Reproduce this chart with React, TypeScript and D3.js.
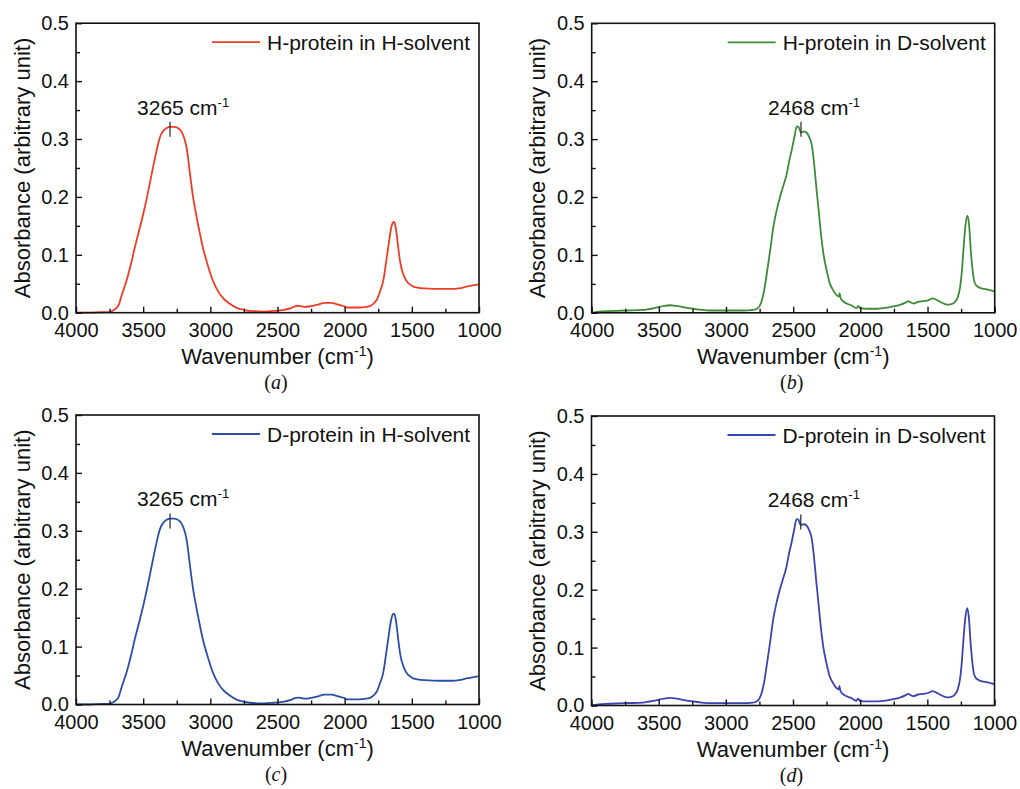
import React, { useEffect, useRef } from "react";
import * as d3 from "d3";

// [wavenumber (cm-1), absorbance]
const hSolventSpectrum: [number, number][] = [
  [4000, 0.0], [3900, 0.0], [3800, 0.001], [3760, 0.001], [3730, 0.003], [3700, 0.008],
  [3685, 0.012], [3660, 0.03], [3623, 0.056], [3590, 0.085], [3561, 0.114], [3530, 0.142],
  [3499, 0.171], [3474, 0.197], [3449, 0.225], [3424, 0.254], [3400, 0.28], [3385, 0.295],
  [3370, 0.306], [3350, 0.314], [3325, 0.319], [3300, 0.321], [3270, 0.321], [3250, 0.32],
  [3230, 0.317], [3211, 0.311], [3195, 0.302], [3181, 0.29], [3170, 0.275], [3160, 0.256],
  [3145, 0.228], [3130, 0.202], [3110, 0.175], [3085, 0.145], [3057, 0.114], [3020, 0.083],
  [2982, 0.056], [2940, 0.036], [2900, 0.024], [2858, 0.016], [2800, 0.008], [2750, 0.005],
  [2704, 0.003], [2600, 0.002], [2531, 0.003], [2450, 0.005], [2400, 0.008], [2370, 0.011],
  [2350, 0.012], [2320, 0.011], [2290, 0.01], [2258, 0.011], [2200, 0.014], [2150, 0.017],
  [2100, 0.017], [2060, 0.015], [2035, 0.013], [2000, 0.011], [1985, 0.009], [1960, 0.009],
  [1900, 0.009], [1836, 0.01], [1800, 0.013], [1775, 0.018], [1762, 0.022], [1740, 0.035],
  [1712, 0.056], [1690, 0.09], [1675, 0.114], [1655, 0.145], [1640, 0.156], [1632, 0.157],
  [1622, 0.15], [1610, 0.13], [1600, 0.11], [1585, 0.085], [1563, 0.066], [1540, 0.055],
  [1510, 0.048], [1489, 0.045], [1450, 0.043], [1400, 0.042], [1290, 0.041], [1200, 0.041],
  [1150, 0.042], [1092, 0.045], [1050, 0.047], [1000, 0.049],
];

const dSolventSpectrum: [number, number][] = [
  [4000, 0.0], [3950, 0.002], [3864, 0.003], [3750, 0.004], [3616, 0.005], [3520, 0.009],
  [3460, 0.012], [3417, 0.013], [3370, 0.012], [3300, 0.009], [3243, 0.007], [3180, 0.005],
  [3119, 0.004], [3000, 0.004], [2871, 0.004], [2800, 0.005], [2771, 0.007], [2750, 0.012],
  [2734, 0.021], [2715, 0.04], [2697, 0.067], [2670, 0.11], [2648, 0.148], [2620, 0.18],
  [2598, 0.2], [2570, 0.222], [2548, 0.24], [2530, 0.262], [2511, 0.281], [2490, 0.305],
  [2474, 0.322], [2460, 0.321], [2444, 0.312], [2420, 0.313], [2399, 0.311], [2380, 0.303],
  [2362, 0.29], [2350, 0.27], [2337, 0.24], [2325, 0.21], [2313, 0.183], [2295, 0.14],
  [2275, 0.102], [2250, 0.072], [2226, 0.05], [2200, 0.038], [2176, 0.03], [2160, 0.028],
  [2155, 0.034], [2148, 0.026], [2130, 0.02], [2102, 0.016], [2060, 0.012], [2030, 0.008],
  [2015, 0.012], [2003, 0.008], [1950, 0.007], [1879, 0.007], [1800, 0.009], [1755, 0.011],
  [1700, 0.014], [1660, 0.018], [1643, 0.02], [1625, 0.018], [1605, 0.016], [1570, 0.019],
  [1531, 0.02], [1490, 0.022], [1462, 0.025], [1440, 0.023], [1407, 0.019], [1370, 0.015],
  [1345, 0.014], [1310, 0.016], [1295, 0.019], [1275, 0.027], [1258, 0.044], [1245, 0.07],
  [1233, 0.108], [1218, 0.15], [1203, 0.168], [1190, 0.15], [1178, 0.108], [1165, 0.075],
  [1154, 0.056], [1140, 0.048], [1109, 0.043], [1050, 0.04], [1000, 0.037],
];

const legendLabels = ["H-protein in H-solvent", "H-protein in D-solvent", "D-protein in H-solvent", "D-protein in D-solvent"];
const captions = ["a", "b", "c", "d"];
const peakLabels = ["3265", "2468", "3265", "2468"];
const peakMarks = [3300, 2442, 3300, 2442]; // where the little vertical mark sits
const spectra = [hSolventSpectrum, dSolventSpectrum, hSolventSpectrum, dSolventSpectrum];
const colors = ["#ee3d25", "#3d8a38", "#2c4fa6", "#3a44ae"];

const xMajor = [4000, 3500, 3000, 2500, 2000, 1500, 1000];
const xMinor = [3750, 3250, 2750, 2250, 1750, 1250];
const yMajor = [0, 0.1, 0.2, 0.3, 0.4, 0.5];
const yMinor = [0.05, 0.15, 0.25, 0.35, 0.45];

const origins: [number, number][] = [[76, 23.2], [591.7, 23.3], [76, 415], [591.5, 416]];
const plotW = 403;
const plotH = 289.5;
const SANS = "'Liberation Sans', Arial, sans-serif";
const SERIF = "'Liberation Serif', 'Times New Roman', serif";

const App = () => {
  const ref = useRef<SVGSVGElement>(null);

  useEffect(() => {
    const svg = d3.select(ref.current);
    svg.selectAll("*").remove();

    const x = d3.scaleLinear().domain([4000, 1000]).range([0, plotW]);
    const y = d3.scaleLinear().domain([0, 0.5]).range([plotH, 0]);

    spectra.forEach((data, i) => {
      const [ox, oy] = origins[i];
      const g = svg.append("g").attr("transform", `translate(${ox},${oy})`);

      // curve
      const line = d3.line<[number, number]>()
        .x((d) => x(d[0]))
        .y((d) => y(d[1]))
        .curve(d3.curveMonotoneX);
      g.append("path")
        .datum(data)
        .attr("d", line)
        .attr("fill", "none")
        .attr("stroke", colors[i])
        .attr("stroke-width", 1.8)
        .attr("stroke-linejoin", "round");

      // axes, ticks pointing inward
      const styleAxis = (sel: any, size: number) => {
        sel.select(".domain").remove();
        sel.selectAll("line").attr("stroke", "#111").attr("stroke-width", 1.4);
        sel.selectAll("text").attr("fill", "#111");
        sel.attr("font-size", size).attr("font-family", SANS);
      };

      const xg = g.append("g").attr("transform", `translate(0,${plotH})`)
        .call(d3.axisBottom(x).tickValues(xMajor).tickSizeInner(-6).tickSizeOuter(0).tickPadding(10).tickFormat(d3.format("d")));
      styleAxis(xg, 20);
      const xm = g.append("g").attr("transform", `translate(0,${plotH})`)
        .call(d3.axisBottom(x).tickValues(xMinor).tickSizeInner(-4).tickSizeOuter(0).tickFormat(() => ""));
      styleAxis(xm, 20);

      const yg = g.append("g")
        .call(d3.axisLeft(y).tickValues(yMajor).tickSizeInner(-6).tickSizeOuter(0).tickPadding(7).tickFormat(d3.format(".1f")));
      styleAxis(yg, 20);
      const ym = g.append("g")
        .call(d3.axisLeft(y).tickValues(yMinor).tickSizeInner(-4).tickSizeOuter(0).tickFormat(() => ""));
      styleAxis(ym, 20);

      // frame
      g.append("rect")
        .attr("width", plotW)
        .attr("height", plotH)
        .attr("fill", "none")
        .attr("stroke", "#111")
        .attr("stroke-width", 1.6);

      // legend
      g.append("line")
        .attr("x1", 136).attr("x2", 184)
        .attr("y1", 19).attr("y2", 19)
        .attr("stroke", colors[i])
        .attr("stroke-width", 1.8);
      g.append("text")
        .attr("x", 191)
        .attr("y", 26.5)
        .attr("font-family", SANS)
        .attr("font-size", 21)
        .attr("fill", "#111")
        .text(legendLabels[i]);

      // peak annotation
      const mx = x(peakMarks[i]);
      g.append("line")
        .attr("x1", mx).attr("x2", mx)
        .attr("y1", y(0.33)).attr("y2", y(0.304))
        .attr("stroke", "#222")
        .attr("stroke-width", 1.2);
      const ann = g.append("text")
        .attr("x", mx - 33)
        .attr("y", y(0.342))
        .attr("font-family", SANS)
        .attr("font-size", 21)
        .attr("fill", "#111");
      ann.append("tspan").text(`${peakLabels[i]} cm`);
      ann.append("tspan").attr("font-size", 13).attr("dy", -8).text("-1");

      // axis titles
      const xt = g.append("text")
        .attr("x", plotW / 2)
        .attr("y", plotH + 51.5)
        .attr("text-anchor", "middle")
        .attr("font-family", SANS)
        .attr("font-size", 22)
        .attr("fill", "#111");
      xt.append("tspan").text("Wavenumber (cm");
      xt.append("tspan").attr("font-size", 14).attr("dy", -8).text("-1");
      xt.append("tspan").attr("dy", 8).text(")");

      g.append("text")
        .attr("transform", `translate(${-46.5},${plotH / 2}) rotate(-90)`)
        .attr("text-anchor", "middle")
        .attr("font-family", SANS)
        .attr("font-size", 22)
        .attr("fill", "#111")
        .text("Absorbance (arbitrary unit)");

      // caption (a), (b) ...
      const cap = g.append("text")
        .attr("x", 200)
        .attr("y", plotH + 76)
        .attr("text-anchor", "middle")
        .attr("font-family", SERIF)
        .attr("font-size", 20)
        .attr("fill", "#111");
      cap.append("tspan").text("(");
      cap.append("tspan").attr("font-style", "italic").text(captions[i]);
      cap.append("tspan").text(")");
    });
  }, []);

  return (
    <div style={{ position: "absolute", left: 0, top: 0, background: "#fff" }}>
      <svg ref={ref} width={1020} height={789} style={{ display: "block" }}></svg>
    </div>
  );
};

export default App;
